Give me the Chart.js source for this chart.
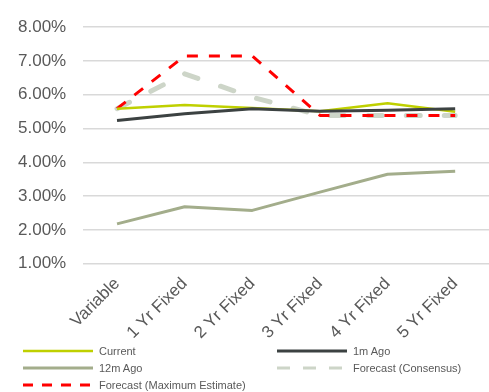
<!DOCTYPE html>
<html>
<head>
<meta charset="utf-8">
<script src="https://cdn.jsdelivr.net/npm/chart.js@4/dist/chart.umd.min.js"></script>
<style>
  html, body { margin: 0; padding: 0; background: #fff; }
  #wrap { position: relative; width: 489px; height: 392px; overflow: hidden; }
  #cbox { position: absolute; left: 0; top: 0; width: 489px; height: 353px; }
  #legend { position: absolute; left: 0; top: 0; width: 489px; height: 392px; pointer-events: none;
            font-family: "Liberation Sans", Arial, sans-serif; font-size: 11px; color: #595959; }
  .li { position: absolute; height: 14px; line-height: 14px; white-space: nowrap; }
  .li svg { position: absolute; left: 0; top: 0; }
  .li span { position: absolute; left: 76px; top: 0; }
</style>
</head>
<body>
<div id="wrap">
  <div id="cbox"><canvas id="c"></canvas></div>
  <div id="legend"></div>
</div>
<script>
const categories = ["Variable", "1 Yr Fixed", "2 Yr Fixed", "3 Yr Fixed", "4 Yr Fixed", "5 Yr Fixed"];
const seriesNames = ["Current", "1m Ago", "12m Ago", "Forecast (Consensus)", "Forecast (Maximum Estimate)"];
const current   = [5.59, 5.70, 5.61, 5.51, 5.75, 5.50];
const oneMonth  = [5.24, 5.44, 5.59, 5.51, 5.54, 5.59];
const twelveMonth = [2.18, 2.69, 2.58, 3.12, 3.65, 3.74];
const consensus = [5.59, 6.62, 5.93, 5.39, 5.39, 5.39];
const maxEstimate = [5.59, 7.15, 7.15, 5.39, 5.39, 5.39];
const yTicks = [1, 2, 3, 4, 5, 6, 7, 8];

const styles = [
  { color: "#bfd000", width: 2.5, dash: [], cap: "butt" },
  { color: "#3c4242", width: 3, dash: [], cap: "butt" },
  { color: "#a3ad8b", width: 3, dash: [], cap: "butt" },
  { color: "#cdd5c8", width: 5, dash: [14, 24], cap: "round" },
  { color: "#ff0000", width: 3, dash: [11, 11], cap: "butt" }
];
const values = [current, oneMonth, twelveMonth, consensus, maxEstimate];

const datasets = values.map((v, i) => ({
  label: seriesNames[i],
  data: v,
  borderColor: styles[i].color,
  backgroundColor: styles[i].color,
  borderWidth: styles[i].width,
  borderDash: styles[i].dash,
  borderCapStyle: styles[i].cap,
  borderJoinStyle: "round",
  pointRadius: 0,
  tension: 0,
  fill: false
}));
datasets[0].order = 2; datasets[1].order = 1; datasets[2].order = 5; datasets[3].order = 4; datasets[4].order = 3;

const FONT = "'Liberation Sans', Arial, sans-serif";
new Chart(document.getElementById("c"), {
  type: "line",
  data: { labels: categories, datasets: datasets },
  options: {
    responsive: true,
    maintainAspectRatio: false,
    animation: false,
    layout: { padding: { left: 1, right: 0, top: 11, bottom: 0 } },
    plugins: { legend: { display: false }, tooltip: { enabled: false } },
    scales: {
      x: {
        offset: true,
        afterFit: (axis) => { axis.paddingLeft = 0; axis.paddingRight = 0; },
        grid: { display: false, drawTicks: false, offset: true },
        border: { display: false },
        ticks: {
          color: "#595959",
          font: { family: FONT, size: 17 },
          minRotation: 45, maxRotation: 45,
          padding: 10,
          autoSkip: false
        }
      },
      y: {
        min: yTicks[0], max: yTicks[yTicks.length - 1],
        afterBuildTicks: (axis) => { axis.ticks = yTicks.map(v => ({ value: v })); },
        grid: { color: "#d9d9d9", lineWidth: 1.5, drawTicks: false },
        border: { display: false },
        ticks: {
          color: "#595959",
          font: { family: FONT, size: 17 },
          padding: 17,
          callback: (v) => Number(v).toFixed(2) + "%"
        }
      }
    }
  }
});

const legendPos = [
  { x: 23, y: 344 }, { x: 277, y: 344 },
  { x: 23, y: 361 }, { x: 277, y: 361 },
  { x: 23, y: 378 }
];
const lg = document.getElementById("legend");
seriesNames.forEach((name, i) => {
  const s = styles[i];
  const d = document.createElement("div");
  d.className = "li";
  d.style.left = legendPos[i].x + "px";
  d.style.top = legendPos[i].y + "px";
  let dash = "";
  let w = Math.min(s.width, 3);
  if (i === 3) dash = 'stroke-dasharray="13 13" stroke-linecap="butt"';
  if (i === 4) dash = 'stroke-dasharray="10 9" stroke-linecap="butt"';
  d.innerHTML = '<svg width="72" height="14"><line x1="0" y1="7" x2="70" y2="7" stroke="' + s.color +
    '" stroke-width="' + w + '" ' + dash + '/></svg><span>' + name + '</span>';
  lg.appendChild(d);
});
</script>
</body>
</html>
